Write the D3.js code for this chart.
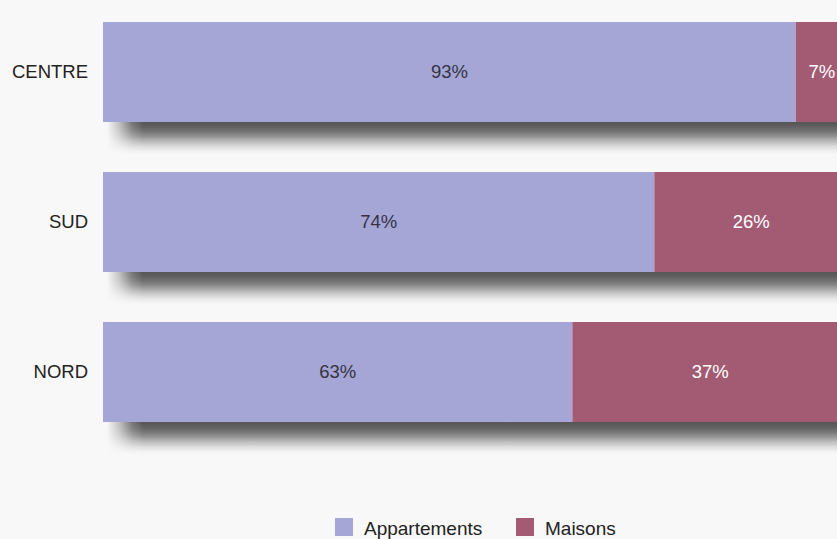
<!DOCTYPE html>
<html>
<head>
<meta charset="utf-8">
<script src="https://cdn.jsdelivr.net/npm/d3@7"></script>
<style>
  html, body { margin: 0; padding: 0; background: #f8f8f8; }
  svg { display: block; }
</style>
</head>
<body>
<svg id="chart" width="837" height="539"></svg>
<script>
// Housing split by region (percent)
const regions = ["CENTRE", "SUD", "NORD"];
const appartements = [93, 74, 63];
const maisons = [7, 26, 37];
const seriesNames = ["Appartements", "Maisons"];
const seriesColors = ["#a6a6d6", "#a35b74"];
const labelColors = ["#333344", "#ffffff"];

const svg = d3.select("#chart");
const margin = { left: 103 };
const plotWidth = 745;
const font = "Liberation Sans, Arial, sans-serif";
const shadowDepth = 32;

const x = d3.scaleLinear().domain([0, 100]).range([margin.left, margin.left + plotWidth]);
const y = d3.scaleBand().domain(regions).range([-3, 447]).paddingInner(1 / 3).paddingOuter(1 / 6);

const defs = svg.append("defs");

// Vertical falloff of the shadow below a bar
const vg = defs.append("linearGradient").attr("id", "shadowFall")
  .attr("x1", 0).attr("y1", 0).attr("x2", 0).attr("y2", 1);
[[0, 0.76], [0.12, 0.72], [0.27, 0.64], [0.43, 0.5], [0.6, 0.3], [0.77, 0.13], [0.9, 0.04], [1, 0]]
  .forEach(([o, a]) => vg.append("stop").attr("offset", o).attr("stop-color", "#222").attr("stop-opacity", a));

// Horizontal fade-in at the left end of the shadow
const hg = defs.append("linearGradient").attr("id", "shadowFade")
  .attr("gradientUnits", "userSpaceOnUse")
  .attr("x1", x(0) + 4).attr("y1", 0).attr("x2", x(0) + 40).attr("y2", 0);
[[0, 0], [0.35, 0.35], [0.7, 0.8], [1, 1]]
  .forEach(([o, a]) => hg.append("stop").attr("offset", o).attr("stop-color", "#fff").attr("stop-opacity", a));
defs.append("mask").attr("id", "shadowMask")
  .attr("maskUnits", "userSpaceOnUse").attr("x", 0).attr("y", 0).attr("width", 837).attr("height", 539)
  .append("rect").attr("width", 837).attr("height", 539).attr("fill", "url(#shadowFade)");

const rows = regions.map((r, i) => ({ region: r, values: [appartements[i], maisons[i]] }));

svg.append("g").attr("mask", "url(#shadowMask)")
  .selectAll("rect").data(rows).join("rect")
  .attr("x", x(0))
  .attr("y", d => y(d.region) + y.bandwidth())
  .attr("width", plotWidth)
  .attr("height", shadowDepth)
  .attr("fill", "url(#shadowFall)");

const stack = d3.stack().keys([0, 1])(rows.map(d => d.values));

const g = svg.append("g");
stack.forEach((layer, k) => {
  layer.forEach((seg, i) => {
    const x0 = x(seg[0]), x1 = x(seg[1]);
    const yy = y(regions[i]);
    g.append("rect")
      .attr("x", x0).attr("y", yy)
      .attr("width", x1 - x0).attr("height", y.bandwidth())
      .attr("fill", seriesColors[k]);
    g.append("text")
      .attr("x", (x0 + x1) / 2).attr("y", yy + y.bandwidth() / 2)
      .attr("dy", "0.35em")
      .attr("text-anchor", "middle")
      .attr("font-family", font)
      .attr("font-size", 18.5)
      .attr("fill", labelColors[k])
      .text(rows[i].values[k] + "%");
  });
});

// Category axis labels
const yAxis = d3.axisLeft(y).tickSize(0).tickPadding(15);
const ya = svg.append("g").attr("transform", `translate(${margin.left},0)`).call(yAxis);
ya.select(".domain").remove();
ya.selectAll("text")
  .attr("font-family", font)
  .attr("font-size", 18.5)
  .attr("fill", "#222");

// Legend
const legend = svg.append("g").attr("transform", "translate(335,518)");
const legendX = [0, 181];
seriesNames.forEach((name, k) => {
  const item = legend.append("g").attr("transform", `translate(${legendX[k]},0)`);
  item.append("rect").attr("width", 18).attr("height", 18).attr("fill", seriesColors[k]);
  item.append("text").attr("x", 29).attr("y", 10).attr("dy", "0.37em")
    .attr("font-family", font)
    .attr("font-size", 19).attr("fill", "#222").text(name);
});
</script>
</body>
</html>
